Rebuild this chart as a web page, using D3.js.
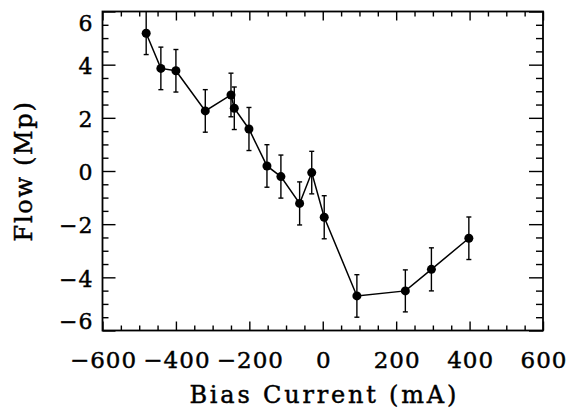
<!DOCTYPE html>
<html>
<head>
<meta charset="utf-8">
<script src="https://cdn.jsdelivr.net/npm/d3@7"></script>
<style>
  html, body { margin: 0; padding: 0; background: #fff; }
  svg { display: block; }
  text { font-family: "DejaVu Serif", serif; fill: #000; stroke: #000; stroke-width: 0.45px; }
</style>
</head>
<body>
<svg id="chart" width="567" height="410"></svg>
<script>
// ---- data ----
const biasCurrent = [-481, -441, -400, -320, -250, -241, -201, -152, -114, -63, -30, 4, 93, 225, 296, 398];
const flow        = [5.18, 3.86, 3.77, 2.26, 2.86, 2.36, 1.58, 0.19, -0.21, -1.22, -0.06, -1.74, -4.70, -4.51, -3.70, -2.53];
const flowError   = [0.8, 0.8, 0.8, 0.8, 0.82, 0.8, 0.81, 0.8, 0.81, 0.81, 0.8, 0.81, 0.8, 0.79, 0.81, 0.8];
const xTickLabels = [-600, -400, -200, 0, 200, 400, 600];
const yTickLabels = [-6, -4, -2, 0, 2, 4, 6];
const xMinorTicks = d3.range(-600, 601, 50);
const yMinorTicks = d3.range(-6, 6.01, 0.5);
const xTitle = "Bias Current (mA)";
const yTitle = "Flow (Mp)";

// ---- layout ----
const pL = 102.5, pR = 543, pT = 11.5, pB = 330.5;
const svg = d3.select("#chart");

const x = d3.scaleLinear().domain([-600, 600]).range([pL, pR]);
const y = d3.scaleLinear().domain([-6, 6]).range([pB, pT]);

const fmt = d => (d < 0 ? "\u2212" + Math.abs(d) : String(d));
const isMajorX = v => xTickLabels.includes(v);
const isMajorY = v => yTickLabels.includes(Math.round(v * 10) / 10);

function tickAxis(axisFn, scale, vals, size, transform) {
  const g = svg.append("g").attr("transform", transform)
    .call(axisFn(scale).tickValues(vals).tickSize(size).tickFormat(""));
  g.select(".domain").remove();
  g.selectAll(".tick line").attr("stroke", "#000").attr("stroke-width", 1.4);
  return g;
}

const xMin = xMinorTicks.filter(v => !isMajorX(v));
const yMin = yMinorTicks.filter(v => !isMajorY(v));

tickAxis(d3.axisBottom, x, xTickLabels, -9, `translate(0,${pB})`);
tickAxis(d3.axisBottom, x, xMin, -5, `translate(0,${pB})`);
tickAxis(d3.axisTop, x, xTickLabels, -9, `translate(0,${pT})`);
tickAxis(d3.axisTop, x, xMin, -5, `translate(0,${pT})`);
tickAxis(d3.axisLeft, y, yTickLabels, -13, `translate(${pL},0)`);
tickAxis(d3.axisLeft, y, yMin, -6, `translate(${pL},0)`);
tickAxis(d3.axisRight, y, yTickLabels, -14, `translate(${pR},0)`);
tickAxis(d3.axisRight, y, yMin, -7, `translate(${pR},0)`);

// frame
svg.append("rect")
  .attr("x", pL).attr("y", pT)
  .attr("width", pR - pL).attr("height", pB - pT)
  .attr("fill", "none").attr("stroke", "#000").attr("stroke-width", 1.8);

// x tick labels
const xl = svg.append("g").attr("transform", `translate(0,${pB})`)
  .call(d3.axisBottom(x).tickValues(xTickLabels).tickSize(0).tickFormat(fmt));
xl.select(".domain").remove();
xl.selectAll("text")
  .attr("y", 37.5).attr("dy", null).attr("dx", 0.5)
  .attr("font-family", null).attr("font-size", null)
  .style("font-size", "23px").style("letter-spacing", "1px");

// y tick labels
const yl = svg.append("g").attr("transform", `translate(${pL},0)`)
  .call(d3.axisLeft(y).tickValues(yTickLabels).tickSize(0).tickFormat(fmt));
yl.select(".domain").remove();
yl.selectAll("text")
  .attr("x", -9).attr("dy", d => d === 6 ? "0.85em" : d === -6 ? "-0.1em" : "0.4em")
  .attr("font-family", null).attr("font-size", null)
  .style("font-size", "22px").style("letter-spacing", "1px");

// axis titles
svg.append("text")
  .attr("x", (pL + pR) / 2 + 1.5).attr("y", 403)
  .attr("text-anchor", "middle")
  .style("font-size", "24px").style("letter-spacing", "2.8px")
  .text(xTitle);

svg.append("text")
  .attr("transform", `translate(32,${(pT + pB) / 2}) rotate(-90)`)
  .attr("text-anchor", "middle")
  .style("font-size", "24px").style("letter-spacing", "1.7px")
  .text(yTitle);

// data
const data = biasCurrent.map((b, i) => ({ b, f: flow[i], e: flowError[i] }));

svg.append("path")
  .datum(data)
  .attr("fill", "none").attr("stroke", "#000").attr("stroke-width", 1.5)
  .attr("d", d3.line().x(d => x(d.b)).y(d => y(d.f)));

const eb = svg.append("g").attr("stroke", "#000").attr("stroke-width", 1.4);
eb.selectAll("line.v").data(data).join("line").attr("class", "v")
  .attr("x1", d => x(d.b)).attr("x2", d => x(d.b))
  .attr("y1", d => Math.max(y(d.f + d.e), pT)).attr("y2", d => y(d.f - d.e));
eb.selectAll("line.t").data(data.filter(d => y(d.f + d.e) > pT + 1)).join("line").attr("class", "t")
  .attr("x1", d => x(d.b) - 2.5).attr("x2", d => x(d.b) + 2.5)
  .attr("y1", d => y(d.f + d.e)).attr("y2", d => y(d.f + d.e));
eb.selectAll("line.b").data(data).join("line").attr("class", "b")
  .attr("x1", d => x(d.b) - 2.5).attr("x2", d => x(d.b) + 2.5)
  .attr("y1", d => y(d.f - d.e)).attr("y2", d => y(d.f - d.e));

svg.append("g").selectAll("circle").data(data).join("circle")
  .attr("cx", d => x(d.b)).attr("cy", d => y(d.f)).attr("r", 4.5)
  .attr("fill", "#000");
</script>
</body>
</html>
